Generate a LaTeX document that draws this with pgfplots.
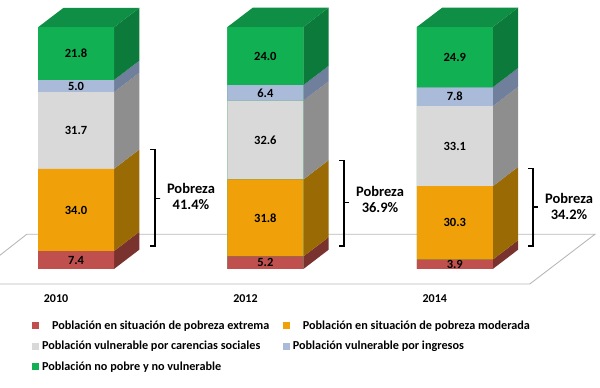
\documentclass[border=0pt]{standalone}
\usepackage{fontspec}
\setmainfont{Carlito}
\usepackage{pgfplots}
\usepackage{pgfplotstable}
\pgfplotsset{compat=1.18}
\definecolor{cRed}{HTML}{C0504D}\definecolor{cRedS}{HTML}{7A322F}
\definecolor{cOra}{HTML}{F0A10A}\definecolor{cOraS}{HTML}{9A6A05}
\definecolor{cGra}{HTML}{D9D9D9}\definecolor{cGraS}{HTML}{8E8E8E}
\definecolor{cBlu}{HTML}{A9BBD9}\definecolor{cBluS}{HTML}{6F7F9C}
\definecolor{cGre}{HTML}{10B053}\definecolor{cGreS}{HTML}{0C7A3A}\definecolor{cGreT}{HTML}{0E8F45}
\definecolor{cFloor}{HTML}{B8B8B8}
\pgfplotstableread{
x v
0 7.4
1 5.2
2 3.9
}\tExt
\pgfplotstableread{
x v
0 34.0
1 31.8
2 30.3
}\tMod
\pgfplotstableread{
x v
0 31.7
1 32.6
2 33.1
}\tCar
\pgfplotstableread{
x v
0 5.0
1 6.4
2 7.8
}\tIng
\pgfplotstableread{
x v
0 21.8
1 24.0
2 24.9
}\tNop
\pgfplotsset{base/.style={
  scale only axis, width=600pt, height=284pt, at={(0,0)}, anchor=south west,
  xmin=-0.4013, xmax=2.7666, ymin=-6.2, ymax=111.16, clip=false,
}}
\begin{document}
\begin{tikzpicture}
\path[use as bounding box] (0,-104pt) rectangle (600pt,284pt);
% floor, side faces, top faces, brackets
\begin{axis}[base, hide axis]
\addplot[cFloor, line width=0.9pt, mark=none] coordinates {(-0.4013,5.7) (-0.260,14.35) (2.740,14.35) (2.3958,-6.2) (-0.4013,-6.2)};
\addplot[fill=cRedS,draw=none,mark=none] coordinates {(0.2005,0)(0.334,7.97)(0.334,15.37)(0.2005,7.4)} \closedcycle;
\addplot[fill=cOraS,draw=none,mark=none] coordinates {(0.2005,7.4)(0.334,15.37)(0.334,49.37)(0.2005,41.4)} \closedcycle;
\addplot[fill=cGraS,draw=none,mark=none] coordinates {(0.2005,41.4)(0.334,49.37)(0.334,81.07)(0.2005,73.1)} \closedcycle;
\addplot[fill=cBluS,draw=none,mark=none] coordinates {(0.2005,73.1)(0.334,81.07)(0.334,86.07)(0.2005,78.1)} \closedcycle;
\addplot[fill=cGreS,draw=none,mark=none] coordinates {(0.2005,78.1)(0.334,86.07)(0.334,107.87)(0.2005,99.9)} \closedcycle;
\addplot[fill=cRedS,draw=none,mark=none] coordinates {(1.2005,0)(1.334,7.97)(1.334,13.17)(1.2005,5.2)} \closedcycle;
\addplot[fill=cOraS,draw=none,mark=none] coordinates {(1.2005,5.2)(1.334,13.17)(1.334,44.97)(1.2005,37.0)} \closedcycle;
\addplot[fill=cGraS,draw=none,mark=none] coordinates {(1.2005,37.0)(1.334,44.97)(1.334,77.57)(1.2005,69.6)} \closedcycle;
\addplot[fill=cBluS,draw=none,mark=none] coordinates {(1.2005,69.6)(1.334,77.57)(1.334,83.97)(1.2005,76.0)} \closedcycle;
\addplot[fill=cGreS,draw=none,mark=none] coordinates {(1.2005,76.0)(1.334,83.97)(1.334,107.97)(1.2005,100)} \closedcycle;
\addplot[fill=cRedS,draw=none,mark=none] coordinates {(2.2005,0)(2.334,7.97)(2.334,11.87)(2.2005,3.9)} \closedcycle;
\addplot[fill=cOraS,draw=none,mark=none] coordinates {(2.2005,3.9)(2.334,11.87)(2.334,42.17)(2.2005,34.2)} \closedcycle;
\addplot[fill=cGraS,draw=none,mark=none] coordinates {(2.2005,34.2)(2.334,42.17)(2.334,75.27)(2.2005,67.3)} \closedcycle;
\addplot[fill=cBluS,draw=none,mark=none] coordinates {(2.2005,67.3)(2.334,75.27)(2.334,83.07)(2.2005,75.1)} \closedcycle;
\addplot[fill=cGreS,draw=none,mark=none] coordinates {(2.2005,75.1)(2.334,83.07)(2.334,107.97)(2.2005,100)} \closedcycle;
\addplot[fill=cGreT,draw=none,mark=none] coordinates {(-0.2005,99.9)(-0.067,107.87)(0.334,107.87)(0.2005,99.9)} \closedcycle;
\addplot[fill=cGreT,draw=none,mark=none] coordinates {(0.7995,100)(0.933,107.97)(1.334,107.97)(1.2005,100)} \closedcycle;
\addplot[fill=cGreT,draw=none,mark=none] coordinates {(1.7995,100)(1.933,107.97)(2.334,107.97)(2.2005,100)} \closedcycle;
% brackets
\addplot[black,line width=1.1pt,mark=none] coordinates {(0.393,49.2)(0.417,49.2)(0.417,29.3)(0.4435,29.3)(0.417,29.3)(0.417,9.5)(0.393,9.5)};
\addplot[black,line width=1.1pt,mark=none] coordinates {(1.391,45.0)(1.415,45.0)(1.415,27.3)(1.441,27.3)(1.415,27.3)(1.415,9.5)(1.391,9.5)};
\addplot[black,line width=1.1pt,mark=none] coordinates {(2.389,41.7)(2.413,41.7)(2.413,25.6)(2.439,25.6)(2.413,25.6)(2.413,9.5)(2.389,9.5)};
\node[align=center,font=\fontsize{14.5}{16}\selectfont\bfseries] at (axis cs:0.607,30.1) {Pobreza\\41.4\%};
\node[align=center,font=\fontsize{14.5}{16}\selectfont\bfseries] at (axis cs:1.605,28.6) {Pobreza\\36.9\%};
\node[align=center,font=\fontsize{14.5}{16}\selectfont\bfseries] at (axis cs:2.603,25.9) {Pobreza\\34.2\%};
\end{axis}
% stacked bars, tick labels, legend
\begin{axis}[base, ybar stacked, bar width=76pt, bar shift=0pt,
  axis x line=bottom, axis y line=none, axis line style={draw=none,-},
  xtick={-0.1055,0.8945,1.8945}, xticklabels={2010,2012,2014},
  xtick style={draw=none},
  extra x ticks={0.3958,1.3958,2.3958}, extra x tick labels={},
  extra x tick style={tick style={draw=cFloor,line width=0.8pt}},
  major tick length=4pt,
  xticklabel style={font=\fontsize{12}{14}\selectfont\bfseries, yshift=-5pt},
  nodes near coords,
  every node near coord/.style={anchor=center, inner sep=0pt, font=\fontsize{12.5}{14}\selectfont\bfseries, text=black,
    /pgf/number format/assume math mode=true,
    /pgf/number format/fixed, /pgf/number format/fixed zerofill, /pgf/number format/precision=1},
  legend columns=2,
  legend image code/.code={\fill[#1] (0pt,-3.5pt) rectangle (7pt,3.5pt);},
  legend style={draw=none, fill=none, at={(axis cs:-0.2323,-20.5)}, anchor=north west, inner sep=0pt, outer sep=0pt,
    font=\fontsize{12.2}{14}\selectfont\bfseries, row sep=6.6pt, legend cell align=left,
    /tikz/every even column/.style={column sep=11.5pt},
    /tikz/every odd column/.style={column sep=1pt}},
]
\addplot[fill=cRed,draw=none] table[x=x,y=v] {\tExt};
\addlegendentry{\hspace*{10pt}Población en situación de pobreza extrema}
\addplot[fill=cOra,draw=none] table[x=x,y=v] {\tMod};
\addlegendentry{\hspace*{10pt}Población en situación de pobreza moderada}
\addplot[fill=cGra,draw=none] table[x=x,y=v] {\tCar};
\addlegendentry{Población vulnerable por carencias sociales}
\addplot[fill=cBlu,draw=none] table[x=x,y=v] {\tIng};
\addlegendentry{Población vulnerable por ingresos}
\addplot[fill=cGre,draw=none] table[x=x,y=v] {\tNop};
\addlegendentry{Población no pobre y no vulnerable}
\end{axis}
\end{tikzpicture}
\end{document}
